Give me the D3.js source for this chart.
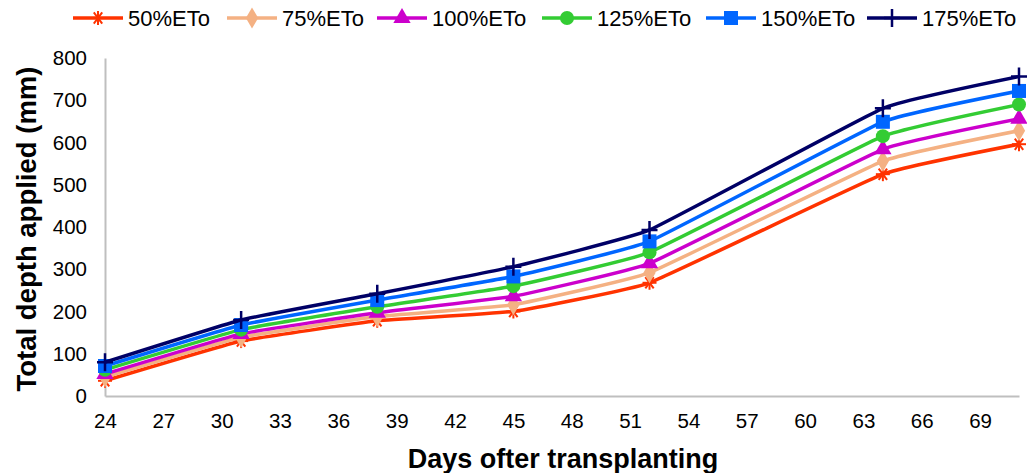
<!DOCTYPE html>
<html><head><meta charset="utf-8">
<script src="https://cdn.jsdelivr.net/npm/d3@7"></script>
<style>body{margin:0;background:#fff;}svg{display:block;font-family:"Liberation Sans",Arial,sans-serif;}</style>
</head><body><svg id="c" width="1027" height="473"></svg>
<script>
const days = [24, 31, 38, 45, 52, 64, 71];
const seriesNames = ["50%ETo","75%ETo","100%ETo","125%ETo","150%ETo","175%ETo"];
const eto50  = [36, 130, 178, 200, 268, 525, 596];
const eto75  = [45, 139, 188, 216, 292, 556, 628];
const eto100 = [52, 147, 197, 236, 314, 584, 656];
const eto125 = [62, 157, 211, 260, 340, 615, 690];
const eto150 = [71, 168, 227, 283, 366, 649, 722];
const eto175 = [80, 180, 242, 306, 393, 681, 756];
const xTicks = [24,27,30,33,36,39,42,45,48,51,54,57,60,63,66,69];
const yTicks = [0,100,200,300,400,500,600,700,800];
const colors = ["#ff3300","#f4b183","#cc00cc","#33cc33","#0066ff","#000066"];
const shapes = ["asterisk","diamond","triangle","circle","square","plus"];
const allSeries = [eto50,eto75,eto100,eto125,eto150,eto175];

const svg = d3.select("#c");
const x = d3.scaleLinear().domain([24,71]).range([105,1019]);
const y = d3.scaleLinear().domain([0,800]).range([396,58]);

// axes
const gx = svg.append("g").attr("transform","translate(0,396)")
  .call(d3.axisBottom(x).tickValues(xTicks).tickSize(0).tickPadding(17).tickFormat(d3.format("d")));
gx.select(".domain").attr("stroke","#bfbfbf").attr("stroke-width",2);
gx.selectAll("text").attr("font-size",20.5).attr("fill","#000");
const gy = svg.append("g").attr("transform","translate(105,0)")
  .call(d3.axisLeft(y).tickValues(yTicks).tickSize(0).tickPadding(18));
gy.select(".domain").attr("stroke","#bfbfbf").attr("stroke-width",2);
gy.selectAll("text").attr("font-size",20.5).attr("fill","#000");

svg.append("text").attr("x",563).attr("y",468).attr("text-anchor","middle")
  .attr("font-weight","bold").attr("font-size",27).text("Days ofter transplanting");
svg.append("text").attr("transform","translate(36,229) rotate(-90)").attr("text-anchor","middle")
  .attr("font-weight","bold").attr("font-size",27.5).text("Total depth applied (mm)");

function drawMarker(g, shape, color, cx, cy){
  const s = g.append("g").attr("transform",`translate(${cx},${cy})`);
  if(shape==="asterisk"){
    const r=7;
    [[-r,0,r,0],[-r*0.6,-r*0.8,r*0.6,r*0.8],[-r*0.6,r*0.8,r*0.6,-r*0.8],[0,-r,0,r]].forEach(l=>
      s.append("line").attr("x1",l[0]).attr("y1",l[1]).attr("x2",l[2]).attr("y2",l[3]).attr("stroke",color).attr("stroke-width",2));
  } else if(shape==="plus"){
    s.append("path").attr("d","M-8,0H8M0,-9V9").attr("stroke",color).attr("stroke-width",2.5);
  } else if(shape==="diamond"){
    s.append("path").attr("d",d3.symbol(d3.symbolDiamond,130)()).attr("fill",color);
  } else if(shape==="triangle"){
    s.append("path").attr("d",d3.symbol(d3.symbolTriangle,130)()).attr("fill",color);
  } else if(shape==="circle"){
    s.append("circle").attr("r",7).attr("fill",color);
  } else if(shape==="square"){
    s.append("rect").attr("x",-7).attr("y",-7).attr("width",14).attr("height",14).attr("fill",color);
  }
}

const line = d3.line().x((d,i)=>x(days[i])).y(d=>y(d)).curve(d3.curveCardinal.tension(0.7));
allSeries.forEach((vals,k)=>{
  const g = svg.append("g");
  g.append("path").datum(vals).attr("d",line).attr("fill","none").attr("stroke",colors[k]).attr("stroke-width",3.5);
  vals.forEach((v,i)=>drawMarker(g,shapes[k],colors[k],x(days[i]),y(v)));
});

// legend
const legX = [73,227,377,542,706,867];
seriesNames.forEach((n,k)=>{
  const g = svg.append("g");
  g.append("line").attr("x1",legX[k]).attr("x2",legX[k]+50).attr("y1",18).attr("y2",18).attr("stroke",colors[k]).attr("stroke-width",3.5);
  drawMarker(g,shapes[k],colors[k],legX[k]+25,18);
  g.append("text").attr("x",legX[k]+55).attr("y",26).attr("font-size",22).attr("fill","#000").text(n);
});
</script></body></html>
